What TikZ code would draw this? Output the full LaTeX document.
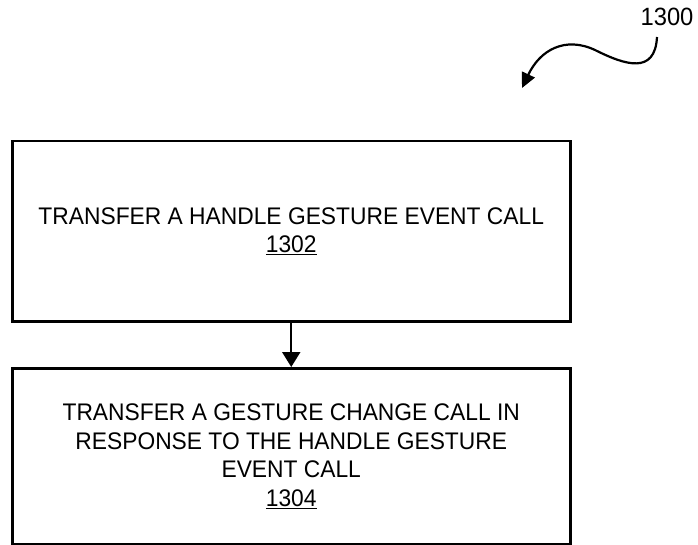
\documentclass[tikz,border=0pt]{standalone}
\usepackage{fontspec}
\setmainfont{Liberation Sans}[FakeStretch=0.95]
\usetikzlibrary{arrows.meta}
\begin{document}
\begin{tikzpicture}[x=1pt,y=-1pt,
  stepbox/.style={draw,line width=2.5pt,minimum width=558pt,anchor=north west,inner sep=0pt,align=center,font=\fontsize{24}{28.5}\selectfont},
  conn/.style={line width=2.2pt,-{Triangle[length=15pt,width=18pt]}}]
\useasboundingbox (0,0) rectangle (698,545);
\node[stepbox,minimum height=180pt] (b1) at (11,140) {TRANSFER A HANDLE GESTURE EVENT CALL\\\underline{1302}};
\node[stepbox,minimum height=176pt] (b2) at (11,367) {TRANSFER A GESTURE CHANGE CALL IN\\RESPONSE TO THE HANDLE GESTURE\\EVENT CALL\\\underline{1304}};
\draw[conn] (b1.south) -- (b2.north);
\node[font=\fontsize{25}{28}\selectfont] (lbl) at (667,17) {1300};
\coordinate (cs) at (657,37);
\coordinate (ce) at (522,88);
\draw[line width=2.2pt,-{Triangle[length=15pt,width=14pt]}] (cs) .. controls (655,75) and (625,65) .. (595,50) .. controls (565,36) and (540,50) .. (ce);
\end{tikzpicture}
\end{document}
